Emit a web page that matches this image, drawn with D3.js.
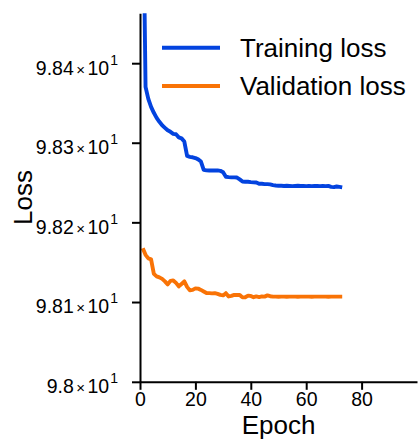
<!DOCTYPE html>
<html>
<head>
<meta charset="utf-8">
<script src="https://cdn.jsdelivr.net/npm/d3@7/dist/d3.min.js"></script>
<style>
  body { margin: 0; background: #fff; }
  svg { display: block; }
  text { font-family: "Liberation Sans", Arial, Helvetica, sans-serif; fill: #000; }
</style>
</head>
<body>
<svg id="chart" width="419" height="441"></svg>
<script>
// Loss per epoch (epochs start at 1)
const trainingLoss = [
  98.6500, 98.3702, 98.3552, 98.3451, 98.3376, 98.3313, 98.3263, 98.3219, 98.3187, 98.3156,
  98.3137, 98.3112, 98.3106, 98.3068, 98.3055, 98.3015, 98.2835, 98.2823, 98.2817, 98.2807,
  98.2791, 98.2764, 98.2660, 98.2653, 98.2651, 98.2653, 98.2651, 98.2653, 98.2647, 98.2628,
  98.2572, 98.2568, 98.2565, 98.2565, 98.2563, 98.2540, 98.2513, 98.2509, 98.2509, 98.2505,
  98.2502, 98.2500, 98.2484, 98.2484, 98.2480, 98.2480, 98.2477, 98.2467, 98.2462, 98.2459,
  98.2459, 98.2457, 98.2459, 98.2457, 98.2455, 98.2457, 98.2459, 98.2457, 98.2457, 98.2455,
  98.2457, 98.2455, 98.2457, 98.2457, 98.2455, 98.2457, 98.2455, 98.2457, 98.2446, 98.2442,
  98.2450, 98.2446, 98.2440
];

const validationLoss = [
  98.1676, 98.1592, 98.1548, 98.1535, 98.1353, 98.1322, 98.1309, 98.1290, 98.1259, 98.1221,
  98.1265, 98.1271, 98.1240, 98.1196, 98.1227, 98.1259, 98.1190, 98.1146, 98.1152, 98.1171,
  98.1168, 98.1152, 98.1133, 98.1114, 98.1111, 98.1108, 98.1111, 98.1102, 98.1089, 98.1083,
  98.1111, 98.1070, 98.1077, 98.1089, 98.1089, 98.1089, 98.1058, 98.1060, 98.1080, 98.1077,
  98.1060, 98.1070, 98.1062, 98.1070, 98.1068, 98.1083, 98.1073, 98.1068, 98.1068, 98.1067,
  98.1068, 98.1068, 98.1067, 98.1068, 98.1068, 98.1068, 98.1067, 98.1068, 98.1068, 98.1068,
  98.1068, 98.1067, 98.1068, 98.1068, 98.1068, 98.1068, 98.1068, 98.1067, 98.1068, 98.1068,
  98.1068, 98.1068, 98.1068
];

const seriesNames = ["Training loss", "Validation loss"];
const seriesColors = ["#0343df", "#f97306"];

const xTicks = [0, 20, 40, 60, 80];
const yTicks = [98.0, 98.1, 98.2, 98.3, 98.4];
const yTickMantissas = ["9.8", "9.81", "9.82", "9.83", "9.84"];
const yTickExponent = "1";

const xDomain = [0, 100];
const yDomain = [98.0, 98.4628];

// Plot box
const plotLeft = 140, plotRight = 417, plotTop = 13.3, plotBottom = 381.8;

const svg = d3.select("#chart");

const x = d3.scaleLinear().domain(xDomain).range([plotLeft, plotRight]);
const y = d3.scaleLog().domain(yDomain).range([plotBottom, plotTop]);

svg.append("defs").append("clipPath").attr("id", "plot-clip")
  .append("rect")
  .attr("x", plotLeft).attr("y", plotTop)
  .attr("width", plotRight - plotLeft).attr("height", plotBottom - plotTop);

// Series lines
const line = d3.line()
  .x((d, i) => x(i + 1))
  .y(d => y(d));

const seriesData = [trainingLoss, validationLoss];
const plot = svg.append("g").attr("clip-path", "url(#plot-clip)");
seriesData.forEach((vals, k) => {
  plot.append("path")
    .datum(vals)
    .attr("d", line)
    .attr("fill", "none")
    .attr("stroke", seriesColors[k])
    .attr("stroke-width", 3.9)
    .attr("stroke-linejoin", "round")
    .attr("stroke-linecap", "butt");
});

// X axis
const xAxis = svg.append("g")
  .attr("transform", `translate(0,${plotBottom})`)
  .call(d3.axisBottom(x).tickValues(xTicks).tickFormat(d3.format("d"))
    .tickSize(8).tickPadding(2).tickSizeOuter(0));
xAxis.select(".domain").attr("stroke", "#000").attr("stroke-width", 2);
xAxis.selectAll(".tick line").attr("stroke", "#000").attr("stroke-width", 2);
xAxis.selectAll(".tick text")
  .attr("font-size", 19.5)
  .attr("font-family", "Liberation Sans, Arial, sans-serif")
  .attr("fill", "#000");

// Y axis (log scale, scientific labels)
const yAxis = svg.append("g")
  .attr("transform", `translate(${plotLeft},0)`)
  .call(d3.axisLeft(y).tickValues(yTicks).tickFormat(() => "")
    .tickSize(8).tickSizeOuter(0));
yAxis.select(".domain").attr("stroke", "#000").attr("stroke-width", 2);
yAxis.selectAll(".tick line").attr("stroke", "#000").attr("stroke-width", 2);
yAxis.selectAll(".tick").each(function(d, i) {
  const t = d3.select(this).select("text")
    .attr("x", -22)
    .attr("dy", null)
    .attr("y", 10.8)
    .attr("text-anchor", "end")
    .attr("font-size", 19.5)
    .attr("font-family", "Liberation Sans, Arial, sans-serif")
    .attr("fill", "#000");
  t.text(null);
  t.append("tspan").text(yTickMantissas[i]);
  t.append("tspan").attr("dx", 2.5).attr("font-size", 15).text("\u00d7");
  t.append("tspan").attr("dx", 2.5).text("10");
  t.append("tspan").attr("dx", 1).attr("dy", -10).attr("font-size", 14).text(yTickExponent);
});

// Axis titles
svg.append("text")
  .attr("x", (plotLeft + plotRight) / 2)
  .attr("y", 434)
  .attr("text-anchor", "middle")
  .attr("font-size", 26)
  .text("Epoch");

svg.append("text")
  .attr("transform", `translate(31.5,${(plotTop + plotBottom) / 2}) rotate(-90)`)
  .attr("text-anchor", "middle")
  .attr("font-size", 26)
  .text("Loss");

// Legend
const legend = svg.append("g");
const legendY = [47.7, 86];
seriesNames.forEach((name, k) => {
  legend.append("line")
    .attr("x1", 162).attr("x2", 220)
    .attr("y1", legendY[k]).attr("y2", legendY[k])
    .attr("stroke", seriesColors[k])
    .attr("stroke-width", 4);
  legend.append("text")
    .attr("x", 240)
    .attr("y", legendY[k] + 8.8)
    .attr("font-size", 26)
    .text(name);
});
</script>
</body>
</html>
